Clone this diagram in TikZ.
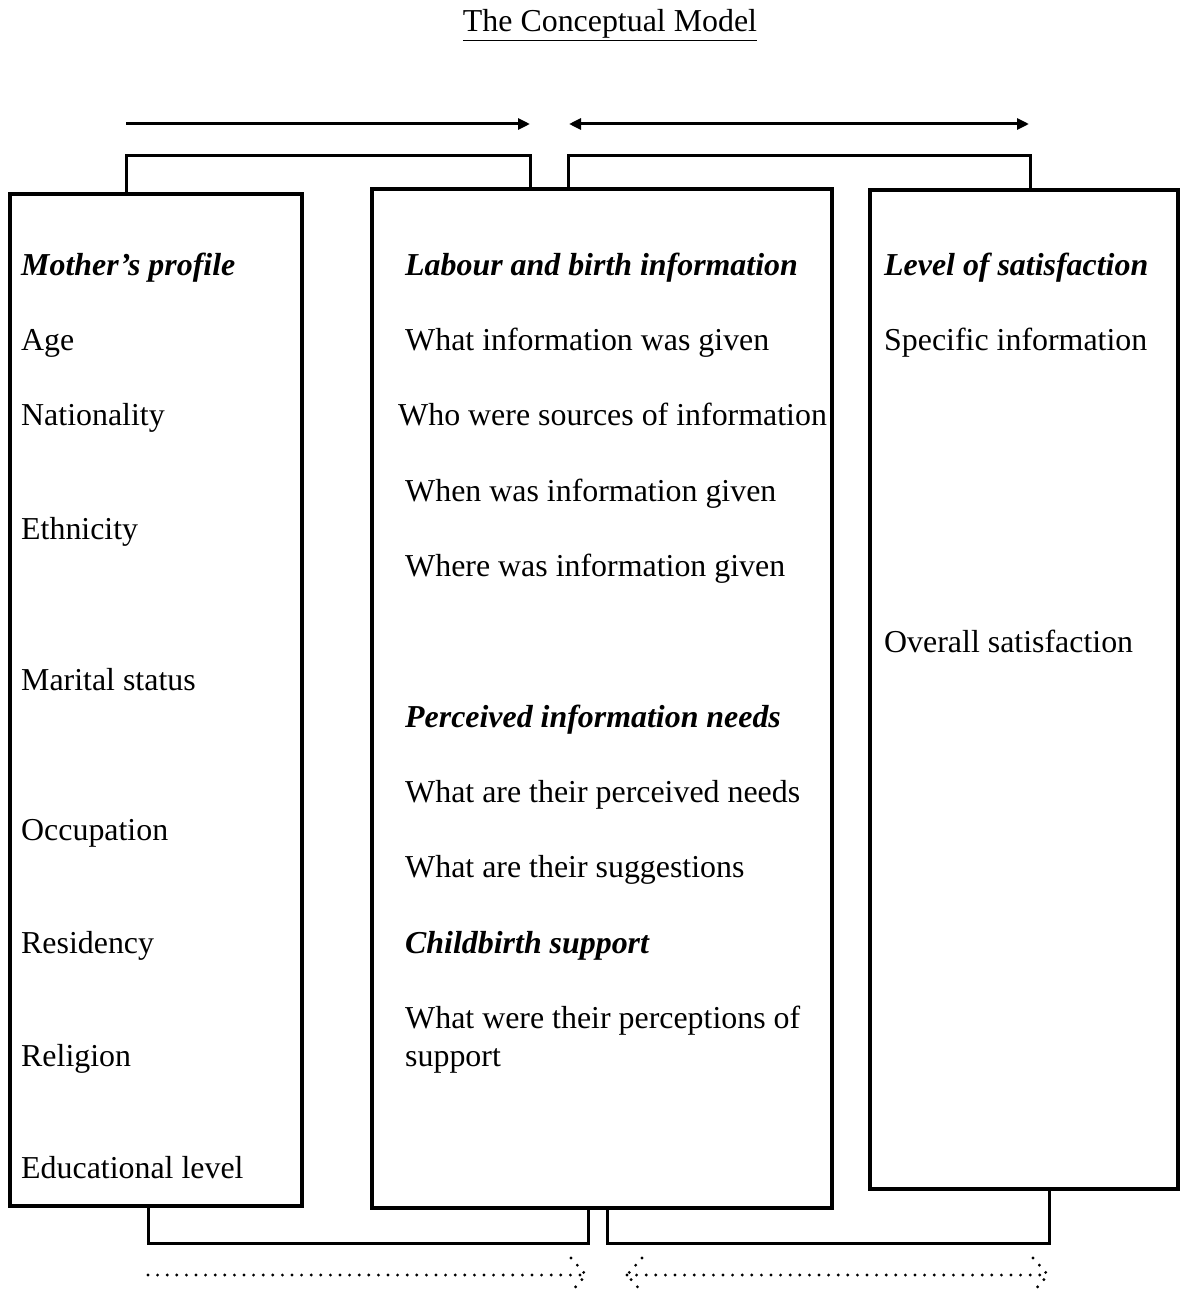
\documentclass[tikz,border=0pt]{standalone}
\usepackage{fontspec}
\setmainfont{Liberation Serif}
\usetikzlibrary{arrows.meta}
\begin{document}
\begin{tikzpicture}[x=1pt,y=-1pt,
  box/.style={draw,line width=4.2pt,inner sep=0pt,outer sep=0pt,anchor=north west},
  br/.style={draw,line width=3pt,line join=miter},
  arr/.style={line width=3pt},
  dots/.style={line width=3.2pt,line cap=round,dash pattern=on 0pt off 9.6pt},
  txt/.style={anchor=base west,inner sep=0pt,font=\fontsize{31.9}{38}\selectfont},
  head/.style={txt,font=\fontsize{31.9}{38}\selectfont\bfseries\itshape}]
\useasboundingbox (0,0) rectangle (1180,1292);
% title
\node[anchor=base,inner sep=0pt,font=\fontsize{31.9}{38}\selectfont] (title) at (610,32) {\underline{The Conceptual Model}};
% boxes
\node[box,minimum width=292pt,minimum height=1012pt] (L) at (10,194) {};
\node[box,minimum width=460pt,minimum height=1019pt] (M) at (372,189) {};
\node[box,minimum width=308pt,minimum height=999pt] (R) at (870,190) {};
% top brackets
\draw[br] ([xshift=116pt]L.north west) |- ([xshift=158pt,yshift=33pt]M.north west) -- ([xshift=158pt]M.north west);
\draw[br] ([xshift=196pt]M.north west) |- ([xshift=160pt,yshift=34pt]R.north west) -- ([xshift=160pt]R.north west);
% bottom brackets
\draw[br] ([xshift=138pt]L.south west) |- ([xshift=216pt,yshift=-35pt]M.south west) -- ([xshift=216pt]M.south west);
\draw[br] ([xshift=235pt]M.south west) |- ([xshift=179pt,yshift=-54pt]R.south west) -- ([xshift=179pt]R.south west);
% top arrows
\coordinate (a1s) at (126,124); \coordinate (a1e) at (530,124);
\coordinate (a2s) at (569,124); \coordinate (a2e) at (1029,124);
\draw[arr,-{Triangle[length=12pt,width=11pt]}] (a1s) -- (a1e);
\draw[arr,{Triangle[length=12pt,width=11pt]}-{Triangle[length=12pt,width=11pt]}] (a2s) -- (a2e);
% bottom dotted arrows
\coordinate (d1s) at (148,1275); \coordinate (d1e) at (586,1275);
\coordinate (d2s) at (627,1275); \coordinate (d2e) at (1048,1275);
\draw[dots] (d1s) -- (d1e);
\draw[dots] ([xshift=-15pt,yshift=17pt]d1e) -- (d1e) -- ([xshift=-15pt,yshift=-17pt]d1e);
\draw[dots] (d2s) -- (d2e);
\draw[dots] ([xshift=15pt,yshift=17pt]d2s) -- (d2s) -- ([xshift=15pt,yshift=-17pt]d2s);
\draw[dots] ([xshift=-15pt,yshift=17pt]d2e) -- (d2e) -- ([xshift=-15pt,yshift=-17pt]d2e);
% left column
\node[head] (l0) at (21,275) {Mother’s profile};
\node[txt] (l1) at (21,350) {Age};
\node[txt] (l2) at (21,425) {Nationality};
\node[txt] (l3) at (21,539) {Ethnicity};
\node[txt] (l4) at (21,690) {Marital status};
\node[txt] (l5) at (21,840) {Occupation};
\node[txt] (l6) at (21,953) {Residency};
\node[txt] (l7) at (21,1066) {Religion};
\node[txt] (l8) at (21,1178) {Educational level};
% middle column
\node[head] (m0) at (405,275) {Labour and birth information};
\node[txt] (m1) at (405,350) {What information was given};
\node[txt] (m2) at (398,425) {Who were sources of information};
\node[txt] (m3) at (405,501) {When was information given};
\node[txt] (m4) at (405,576) {Where was information given};
\node[head] (m5) at (405,727) {Perceived information needs};
\node[txt] (m6) at (405,802) {What are their perceived needs};
\node[txt] (m7) at (405,877) {What are their suggestions};
\node[head] (m8) at (405,953) {Childbirth support};
\node[txt] (m9) at (405,1028) {What were their perceptions of};
\node[txt] (m10) at (405,1066) {support};
% right column
\node[head] (r0) at (884,275) {Level of satisfaction};
\node[txt] (r1) at (884,350) {Specific information};
\node[txt] (r2) at (884,652) {Overall satisfaction};
\end{tikzpicture}
\end{document}
